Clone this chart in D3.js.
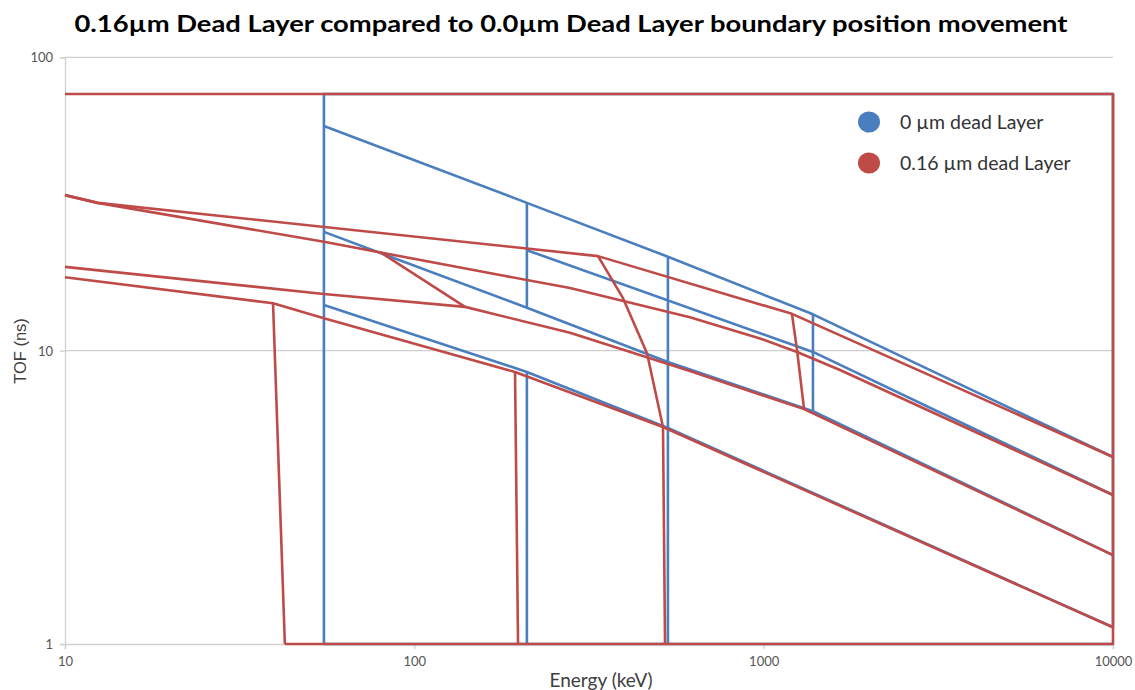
<!DOCTYPE html>
<html>
<head>
<meta charset="utf-8">
<script src="https://cdn.jsdelivr.net/npm/d3@7"></script>
<style>
  html, body { margin: 0; padding: 0; background: #ffffff; }
  svg { display: block; }
</style>
</head>
<body>
<svg id="chart" width="1135" height="690"></svg>
<script>
// Boundary polylines, each point is [Energy (keV), TOF (ns)]

// 0 µm dead layer
const blueOuter = [[55.1, 1], [55.1, 75], [10000, 75], [10000, 1.14]];
const blueBottom = [[55.1, 1], [10000, 1]];
const blueD1 = [[55.1, 58.3], [210, 31.9], [532, 20.9], [1384, 13.3], [10000, 4.34]];
const blueD2 = [[55.1, 25.4], [210, 14.0], [532, 9.15], [1384, 6.22], [10000, 2.01]];
const blueD3 = [[210, 22.0], [1384, 9.9], [10000, 3.22]];
const blueD4 = [[55.1, 14.3], [210, 8.46], [532, 5.45], [10000, 1.14]];
const blueV2a = [[210, 31.9], [210, 14.0]];
const blueV2b = [[210, 8.46], [210, 1]];
const blueV3 = [[532, 20.9], [532, 1]];
const blueV4 = [[1384, 13.3], [1384, 6.22]];

// 0.16 µm dead layer
const redOuter = [[42.6, 1], [10000, 1], [10000, 75], [10, 75]];
const redA1 = [[10, 33.9], [12.4, 31.9], [335.6, 21.0], [1205, 13.35], [10000, 4.34]];
const redA2 = [[10, 33.9], [12.4, 31.9], [55.1, 23.5], [175.9, 18.1], [279, 16.35], [615, 13.0], [976, 11.0], [1246, 9.9], [1654, 8.59], [10000, 3.22]];
const redB = [[10, 19.3], [55.1, 15.6], [139.7, 14.1], [279, 11.5], [615, 8.52], [1305, 6.32], [10000, 2.01]];
const redC = [[10, 17.8], [39.4, 14.5], [55.1, 12.9], [194.2, 8.46], [515, 5.49], [10000, 1.14]];
const redV0 = [[39.4, 14.5], [42.6, 1]];
const redV1 = [[79.7, 21.7], [139.7, 14.1]];
const redV2a = [[194.2, 8.46], [198.1, 1]];
const redV2 = [[335.6, 21.0], [395.7, 15.1], [463.5, 9.8], [515, 5.49], [522, 1]];
const redV3 = [[1205, 13.35], [1246, 10.05], [1305, 6.32]];

const xTicks = [10, 100, 1000, 10000];
const yTicks = [1, 10, 100];

const seriesNames = ["0 µm dead Layer", "0.16 µm dead Layer"];
const seriesColors = ["#4a7ebf", "#be4b48"];

const blueLines = [blueOuter, blueBottom, blueD1, blueD2, blueD3, blueD4, blueV2a, blueV2b, blueV3, blueV4];
const redLines = [redOuter, redA1, redA2, redB, redC, redV0, redV1, redV2a, redV2, redV3];

const svg = d3.select("#chart");

const x = d3.scaleLog().domain([10, 10000]).range([65, 1113]);
const y = d3.scaleLog().domain([1, 100]).range([644, 57.3]);

const fontUI = "Lato, 'Open Sans', sans-serif";

// Title
svg.append("text")
  .attr("x", 571).attr("y", 32)
  .attr("text-anchor", "middle")
  .attr("font-family", fontUI)
  .attr("font-weight", "bold")
  .attr("font-size", 23)
  .attr("fill", "#000")
  .attr("textLength", 993)
  .attr("lengthAdjust", "spacingAndGlyphs")
  .text("0.16µm Dead Layer compared to 0.0µm Dead Layer boundary position movement");

// Horizontal gridlines
svg.append("g")
  .selectAll("line")
  .data(yTicks.filter(d => d > 1))
  .join("line")
  .attr("x1", x(10)).attr("x2", x(10000))
  .attr("y1", d => y(d)).attr("y2", d => y(d))
  .attr("stroke", "#cfcfcf").attr("stroke-width", 1.3);

// Axes
const xAxis = svg.append("g")
  .attr("transform", `translate(0,${y(1)})`)
  .call(d3.axisBottom(x).tickValues(xTicks).tickFormat(d3.format("d")).tickSize(5).tickPadding(8));
const yAxis = svg.append("g")
  .attr("transform", `translate(${x(10)},0)`)
  .call(d3.axisLeft(y).tickValues(yTicks).tickFormat(d3.format("d")).tickSize(5).tickPadding(7));

[xAxis, yAxis].forEach(g => {
  g.select(".domain").attr("stroke", "#cfcfcf").attr("stroke-width", 1.3);
  g.selectAll(".tick line").attr("stroke", "#cfcfcf").attr("stroke-width", 1.3);
  g.selectAll(".tick text")
    .attr("font-family", fontUI)
    .attr("font-size", 13)
    .attr("fill", "#555");
});
yAxis.selectAll(".tick text").attr("dy", "0.35em");

// Axis titles
svg.append("text")
  .attr("x", 601).attr("y", 687)
  .attr("text-anchor", "middle")
  .attr("font-family", fontUI)
  .attr("font-size", 19)
  .attr("fill", "#404040")
  .text("Energy (keV)");

svg.append("text")
  .attr("transform", "translate(26,351) rotate(-90)")
  .attr("text-anchor", "middle")
  .attr("font-family", "'Liberation Sans', Arial, sans-serif")
  .attr("font-size", 16.5)
  .attr("fill", "#404040")
  .text("TOF (ns)");

// Boundary lines
const line = d3.line()
  .x(d => x(d[0]))
  .y(d => y(d[1]));

const plot = svg.append("g");
plot.selectAll("path.blue")
  .data(blueLines)
  .join("path")
  .attr("class", "blue")
  .attr("d", line)
  .attr("fill", "none")
  .attr("stroke", seriesColors[0])
  .attr("stroke-width", 2.6)
  .attr("stroke-linejoin", "round");

plot.selectAll("path.red")
  .data(redLines)
  .join("path")
  .attr("class", "red")
  .attr("d", line)
  .attr("fill", "none")
  .attr("stroke", seriesColors[1])
  .attr("stroke-width", 2.6)
  .attr("stroke-linejoin", "round");

// Legend
const legend = svg.append("g").attr("transform", "translate(869,122)");
const item = legend.selectAll("g")
  .data(seriesNames)
  .join("g")
  .attr("transform", (d, i) => `translate(0,${i * 41})`);
item.append("ellipse")
  .attr("rx", 11).attr("ry", 10.5)
  .attr("fill", (d, i) => seriesColors[i]);
item.append("text")
  .attr("x", 31).attr("y", 0)
  .attr("dy", "0.35em")
  .attr("font-family", fontUI)
  .attr("font-size", 19.5)
  .attr("fill", "#333")
  .text(d => d);
</script>
</body>
</html>
